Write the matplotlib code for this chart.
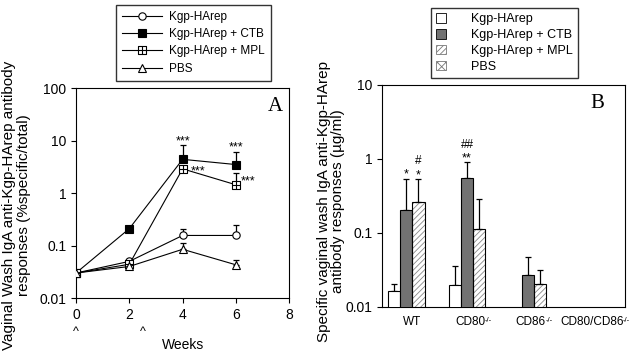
import numpy as np
import matplotlib
matplotlib.use("Agg")
import matplotlib.pyplot as plt
from matplotlib.path import Path
from matplotlib.lines import Line2D
from matplotlib.patches import Patch

plt.rcParams['font.family'] = ['Liberation Sans', 'DejaVu Sans']
plt.rcParams['hatch.linewidth'] = 0.6

# panel A data
weeks = [0, 2, 4, 6]
kgp = [0.03, 0.05, 0.156, 0.156]
kgp_err = [0, 0, 0.055, 0.095]
ctb = [0.03, 0.21, 4.4, 3.5]
ctb_err = [0, 0, 3.7, 2.7]
mpl = [0.03, 0.044, 2.9, 1.44]
mpl_err = [0, 0, 0, 0.95]
pbs = [0.03, 0.04, 0.085, 0.043]
pbs_err = [0, 0, 0.025, 0.01]

# panel B data (nan = not tested)
groups = ['WT', 'CD80', 'CD86', 'CD80/CD86']
group_sup = ['', '-/-', '-/-', '-/-']
b_kgp = [0.0164, 0.0196, np.nan, np.nan]
b_kgp_err = [0.0042, 0.0162, 0, 0]
b_ctb = [0.204, 0.548, 0.0268, np.nan]
b_ctb_err = [0.326, 0.372, 0.020, 0]
b_mpl = [0.262, 0.114, 0.0206, np.nan]
b_mpl_err = [0.268, 0.176, 0.0107, 0]
b_pbs = [np.nan, np.nan, np.nan, np.nan]

# square with a cross inside
sq_plus = Path([(-1, -1), (1, -1), (1, 1), (-1, 1), (-1, -1), (0, -1), (0, 1), (-1, 0), (1, 0)],
               [Path.MOVETO, Path.LINETO, Path.LINETO, Path.LINETO, Path.CLOSEPOLY,
                Path.MOVETO, Path.LINETO, Path.MOVETO, Path.LINETO])

fig = plt.figure(figsize=(6.33, 3.54), dpi=100)
ax1 = fig.add_axes([0.120, 0.158, 0.337, 0.593])
ax2 = fig.add_axes([0.6035, 0.133, 0.384, 0.627])

series = [
    (kgp, kgp_err, 'o', 'white', 5.3, 'Kgp-HArep'),
    (ctb, ctb_err, 's', 'black', 6.3, 'Kgp-HArep + CTB'),
    (mpl, mpl_err, sq_plus, 'white', 5.3, 'Kgp-HArep + MPL'),
    (pbs, pbs_err, '^', 'white', 5.5, 'PBS'),
]
handles = []
for vals, err, mk, fc, ms, lab in series:
    ax1.errorbar(weeks, vals, yerr=[np.zeros(4), err], fmt='none', ecolor='black',
                 elinewidth=0.9, capsize=2.5, capthick=0.9, zorder=2)
    ax1.plot(weeks, vals, color='black', lw=0.8, marker=mk, ms=ms, mfc=fc,
             mec='black', mew=0.8, zorder=3)
    handles.append(Line2D([], [], color='black', lw=0.8, marker=mk, ms=ms, mfc=fc,
                          mec='black', mew=0.8, label=lab))

ax1.set_yscale('log')
ax1.set_ylim(0.01, 100)
ax1.set_xlim(0, 8)
ax1.set_xticks([0, 2, 4, 6, 8])
ax1.set_yticks([0.01, 0.1, 1, 10, 100])
ax1.set_yticklabels(['0.01', '0.1', '1', '10', '100'])
ax1.yaxis.set_minor_locator(matplotlib.ticker.NullLocator())
ax1.tick_params(direction='out', length=3.5, width=0.8, labelsize=10)
ax1.set_xlabel('Weeks', fontsize=10, labelpad=12)
ax1.set_ylabel('Vaginal Wash IgA anti-Kgp-HArep antibody\nresponses (%specific/total)',
               fontsize=11, linespacing=1.05, labelpad=6, y=0.443)
for s in ax1.spines.values():
    s.set_linewidth(0.8)
ax1.text(0.934, 0.914, 'A', transform=ax1.transAxes, ha='center', va='center',
         fontsize=15, family='Liberation Serif')
for xv in [0, 2.5]:
    ax1.text(xv, -0.16, '^', transform=ax1.get_xaxis_transform(), ha='center',
             va='center', fontsize=9)
ax1.text(4, 9.8, '***', ha='center', va='center', fontsize=9)
ax1.text(6, 7.5, '***', ha='center', va='center', fontsize=9)
ax1.text(4.57, 2.6, '***', ha='center', va='center', fontsize=9)
ax1.text(6.45, 1.65, '***', ha='center', va='center', fontsize=9)

fig.legend(handles=handles, loc='upper left', bbox_to_anchor=(0.1833, 0.986),
           fontsize=8.5, handlelength=3.4, labelspacing=0.45, frameon=True,
           fancybox=False, edgecolor='black', borderpad=0.5, handletextpad=0.6,
           borderaxespad=0)

# panel B
x = np.arange(len(groups))
w = 0.2
bar_sets = [
    (b_kgp, b_kgp_err, 'white', None),
    (b_ctb, b_ctb_err, '#727272', None),
    (b_mpl, b_mpl_err, 'white', '//////'),
    (b_pbs, [0, 0, 0, 0], 'white', 'xxxx'),
]
for i, (vals, err, fc, hatch) in enumerate(bar_sets):
    pos = x - 0.3 + i * w
    vals = np.array(vals)
    ok = ~np.isnan(vals)
    if not ok.any():
        continue
    if hatch:
        ax2.bar(pos[ok], vals[ok], width=w, color=fc, edgecolor='#888888',
                hatch=hatch, linewidth=0, zorder=2)
        ax2.bar(pos[ok], vals[ok], width=w, fill=False, edgecolor='black',
                linewidth=0.8, zorder=3)
    else:
        ax2.bar(pos[ok], vals[ok], width=w, color=fc, edgecolor='black',
                linewidth=0.8, zorder=3)
    err = np.array(err)
    ax2.errorbar(pos[ok], vals[ok], yerr=[np.zeros(ok.sum()), err[ok]], fmt='none',
                 ecolor='black', elinewidth=0.9, capsize=2.5, capthick=0.9, zorder=2)

ax2.set_yscale('log')
ax2.set_ylim(0.01, 10)
ax2.set_xlim(-0.5, 3.5)
ax2.set_yticks([0.01, 0.1, 1, 10])
ax2.set_yticklabels(['0.01', '0.1', '1', '10'])
ax2.yaxis.set_minor_locator(matplotlib.ticker.NullLocator())
ax2.set_xticks([])
ax2.tick_params(axis='y', direction='out', length=3.5, width=0.8, labelsize=10)
ax2.set_ylabel('Specific vaginal wash IgA anti-Kgp-HArep\nantibody responses (\u00b5g/ml)',
               fontsize=11, linespacing=1.05, labelpad=0, y=0.475)
for s in ax2.spines.values():
    s.set_linewidth(0.8)
ax2.text(0.885, 0.915, 'B', transform=ax2.transAxes, ha='center', va='center',
         fontsize=15, family='Liberation Serif')
ax2.text(-0.1, 0.62, '*', ha='center', va='center', fontsize=9)
ax2.text(0.1, 0.60, '*', ha='center', va='center', fontsize=9)
ax2.text(0.1, 0.94, '#', ha='center', va='center', fontsize=8.5)
ax2.text(0.9, 1.02, '**', ha='center', va='center', fontsize=9)
ax2.text(0.9, 1.55, '##', ha='center', va='center', fontsize=8.5)

# group labels with small superscripts
fig.canvas.draw()
r = fig.canvas.get_renderer()
inv = fig.transFigure.inverted()
for gx, name, sup in zip(x, groups, group_sup):
    shift = -0.05 if sup else 0
    t = ax2.text(gx + shift, -0.04, name, transform=ax2.get_xaxis_transform(),
                 ha='center', va='top', fontsize=8.5)
    if sup:
        bb = t.get_window_extent(renderer=r)
        fx, fy = inv.transform((bb.x1 - 0.5, bb.y1 - 1.5))
        fig.text(fx, fy, sup, ha='left', va='top', fontsize=5.5)

b_handles = [Patch(facecolor='white', edgecolor='black', lw=0.6, label='Kgp-HArep'),
             Patch(facecolor='#727272', edgecolor='black', lw=0.6, label='Kgp-HArep + CTB'),
             Patch(facecolor='white', edgecolor='#777777', hatch='//////', lw=0.6,
                   label='Kgp-HArep + MPL'),
             Patch(facecolor='white', edgecolor='#777777', hatch='xxxx', lw=0.6, label='PBS')]
fig.legend(handles=b_handles, loc='upper left', bbox_to_anchor=(0.681, 0.977),
           fontsize=9, handlelength=0.8, handleheight=0.8, labelspacing=0.3,
           frameon=True, fancybox=False, edgecolor='black', borderpad=0.4,
           handletextpad=2.0, borderaxespad=0)

fig.savefig('out.png', dpi=100)
